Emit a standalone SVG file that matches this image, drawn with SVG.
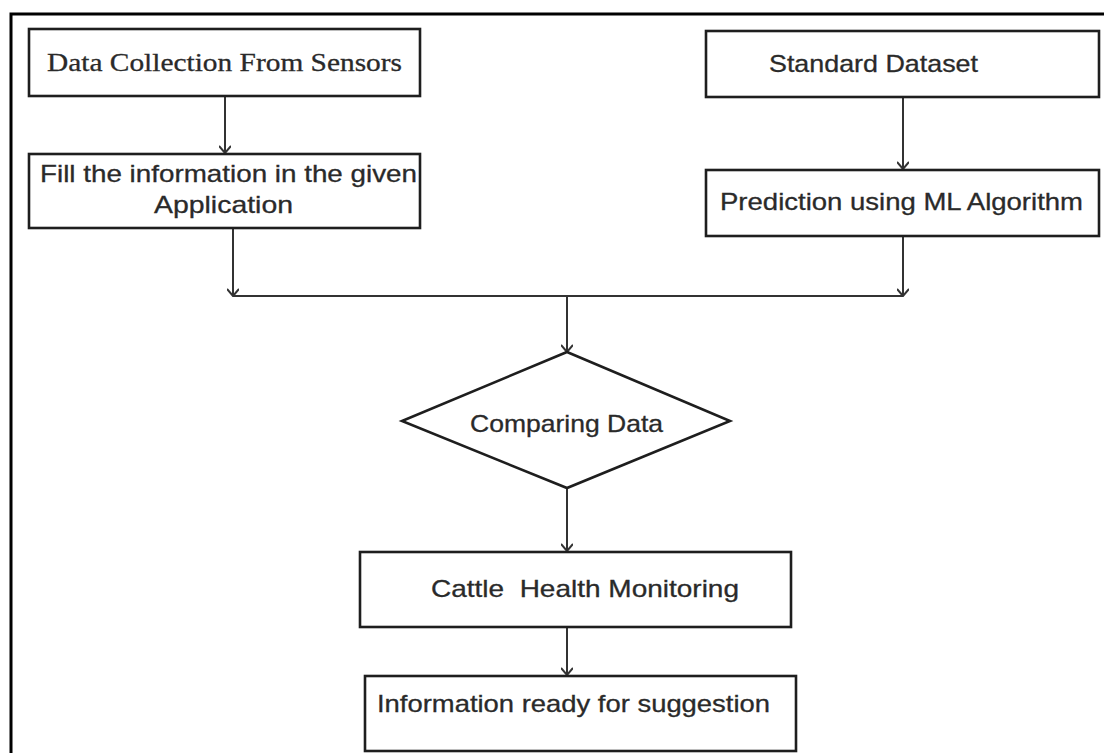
<svg xmlns="http://www.w3.org/2000/svg" width="1104" height="753" viewBox="0 0 1104 753">
<style>
.box{fill:#fff;stroke:#1e1e1e;stroke-width:2.6}
.conn{fill:none;stroke:#333;stroke-width:2}
.t{font-family:"Liberation Sans",Arial,sans-serif;font-size:24px;fill:#2a2a2a;stroke:#2a2a2a;stroke-width:0.3}
.s{font-family:"Liberation Serif","Times New Roman",serif;font-size:26px;fill:#2a2a2a;stroke:#2a2a2a;stroke-width:0.3}
</style>
<defs>
<marker id="arr" viewBox="0 0 10 12" refX="9" refY="6" markerWidth="10" markerHeight="12" markerUnits="userSpaceOnUse" orient="auto">
<path d="M2,0 L9,6 L2,12" fill="none" stroke="#333" stroke-width="2"/>
</marker>
</defs>
<rect x="0" y="0" width="1104" height="753" fill="#fff"/>
<path d="M11,753 L11,14 L1104,14" fill="none" stroke="#000" stroke-width="3"/>
<g id="connectors">
<line class="conn" x1="225" y1="96" x2="225" y2="153" marker-end="url(#arr)"/>
<line class="conn" x1="903" y1="97" x2="903" y2="169" marker-end="url(#arr)"/>
<line class="conn" x1="233" y1="228" x2="233" y2="296" marker-end="url(#arr)"/>
<line class="conn" x1="903" y1="236" x2="903" y2="296" marker-end="url(#arr)"/>
<line class="conn" x1="233" y1="296" x2="903" y2="296"/>
<line class="conn" x1="567" y1="296" x2="567" y2="352" marker-end="url(#arr)"/>
<line class="conn" x1="567" y1="488" x2="567" y2="551" marker-end="url(#arr)"/>
<line class="conn" x1="567" y1="627" x2="567" y2="675" marker-end="url(#arr)"/>
</g>
<g id="n1">
<rect class="box" x="29" y="29" width="391" height="67"/>
<text class="s" x="47" y="71" textLength="355" lengthAdjust="spacingAndGlyphs">Data Collection From Sensors</text>
</g>
<g id="n2">
<rect class="box" x="29" y="154" width="391" height="74"/>
<text class="t" x="40" y="182" textLength="377" lengthAdjust="spacingAndGlyphs">Fill the information in the given</text>
<text class="t" x="154" y="213" textLength="139" lengthAdjust="spacingAndGlyphs">Application</text>
</g>
<g id="n3">
<rect class="box" x="706" y="31" width="393" height="66"/>
<text class="t" x="769" y="72" textLength="209" lengthAdjust="spacingAndGlyphs">Standard Dataset</text>
</g>
<g id="n4">
<rect class="box" x="706" y="170" width="393" height="66"/>
<text class="t" x="720" y="210" textLength="363" lengthAdjust="spacingAndGlyphs">Prediction using ML Algorithm</text>
</g>
<g id="n5">
<polygon class="box" points="567,352 730,421 567,488 402,421"/>
<text class="t" x="470" y="432" textLength="193" lengthAdjust="spacingAndGlyphs">Comparing Data</text>
</g>
<g id="n6">
<rect class="box" x="360" y="552" width="431" height="75"/>
<text class="t" x="431" y="597" textLength="308" lengthAdjust="spacingAndGlyphs" xml:space="preserve">Cattle  Health Monitoring</text>
</g>
<g id="n7">
<rect class="box" x="365" y="676" width="431" height="75"/>
<text class="t" x="377" y="712" textLength="393" lengthAdjust="spacingAndGlyphs">Information ready for suggestion</text>
</g>
</svg>
